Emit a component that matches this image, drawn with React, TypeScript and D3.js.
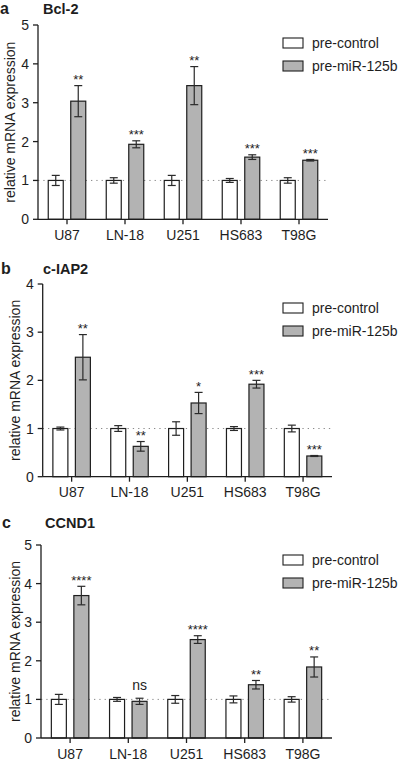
import React from "react";
import * as d3 from "d3";

const cellLines = ["U87", "LN-18", "U251", "HS683", "T98G"];
const seriesNames = ["pre-control", "pre-miR-125b"];

const bcl2Control = [1.0, 1.0, 1.0, 1.0, 1.0];
const bcl2ControlErr = [0.13, 0.07, 0.13, 0.05, 0.07];
const bcl2Mir = [3.04, 1.93, 3.44, 1.6, 1.52];
const bcl2MirErr = [0.4, 0.09, 0.49, 0.06, 0.02];
const bcl2Sig = ["**", "***", "**", "***", "***"];
const bcl2Ticks = [0, 1, 2, 3, 4, 5];

const ciap2Control = [1.0, 1.0, 1.0, 1.0, 1.0];
const ciap2ControlErr = [0.03, 0.06, 0.14, 0.04, 0.07];
const ciap2Mir = [2.48, 0.63, 1.53, 1.92, 0.43];
const ciap2MirErr = [0.47, 0.1, 0.22, 0.08, 0.01];
const ciap2Sig = ["**", "**", "*", "***", "***"];
const ciap2Ticks = [0, 1, 2, 3, 4];

const ccnd1Control = [1.0, 1.0, 1.0, 1.0, 1.0];
const ccnd1ControlErr = [0.13, 0.05, 0.1, 0.09, 0.07];
const ccnd1Mir = [3.69, 0.95, 2.55, 1.38, 1.84];
const ccnd1MirErr = [0.24, 0.08, 0.1, 0.11, 0.26];
const ccnd1Sig = ["****", "ns", "****", "**", "**"];
const ccnd1Ticks = [0, 1, 2, 3, 4, 5];

const FONT = "'Liberation Sans', Arial, Helvetica, sans-serif";
const GRAY = "#b3b3b3";
const INK = "#1e1e1e";

type PanelProps = {
  letter: string;
  title: string;
  control: number[];
  controlErr: number[];
  mir: number[];
  mirErr: number[];
  sig: string[];
  ticks: number[];
  layout: {
    titleY: number;
    letterX: number;
    titleX: number;
    left: number;
    right: number;
    yTop: number;
    yBottom: number;
    legendTop: number;
    yLabelX: number;
    xLabelOffset: number;
  };
};

function Panel(p: PanelProps) {
  const L = p.layout;
  const yMax = p.ticks[p.ticks.length - 1];
  const y = d3.scaleLinear().domain([0, yMax]).range([L.yBottom, L.yTop]);
  const x = d3.scaleBand().domain(cellLines).range([L.left, L.right]);
  const sub = d3
    .scaleBand()
    .domain(seriesNames)
    .range([-18.75, 18.75])
    .paddingInner(1 / 3);
  const bw = sub.bandwidth();
  const series = [
    { name: seriesNames[0], vals: p.control, errs: p.controlErr, fill: "#ffffff" },
    { name: seriesNames[1], vals: p.mir, errs: p.mirErr, fill: GRAY },
  ];
  const yMid = (L.yTop + L.yBottom) / 2;
  return (
    <g fontFamily={FONT} fill={INK}>
      <text x={L.letterX} y={L.titleY} fontWeight="bold" fontSize={16}>
        {p.letter}
      </text>
      <text x={L.titleX} y={L.titleY} fontWeight="bold" fontSize={14.5}>
        {p.title}
      </text>
      <text
        transform={`translate(${L.yLabelX},${yMid}) rotate(-90)`}
        textAnchor="middle"
        dominantBaseline="central"
        fontSize={14}
      >
        relative mRNA expression
      </text>
      {/* reference line at 1 */}
      <line
        x1={L.left}
        x2={L.right}
        y1={y(1)}
        y2={y(1)}
        stroke="#8a8a8a"
        strokeWidth={1}
        strokeDasharray="1.3 4"
      />
      {/* bars */}
      {cellLines.map((c, i) =>
        series.map((s) => {
          const cx = (x(c) as number) + x.bandwidth() / 2;
          const bx = cx + (sub(s.name) as number);
          const v = s.vals[i];
          const e = s.errs[i];
          const mx = bx + bw / 2;
          return (
            <g key={c + s.name}>
              <rect
                x={bx}
                y={y(v)}
                width={bw}
                height={y(0) - y(v)}
                fill={s.fill}
                stroke={INK}
                strokeWidth={1.2}
              />
              <g stroke="#2a2a2a" strokeWidth={1.2}>
                <line x1={mx} x2={mx} y1={y(v + e)} y2={y(v - e)} />
                <line x1={mx - 4} x2={mx + 4} y1={y(v + e)} y2={y(v + e)} />
                <line x1={mx - 4} x2={mx + 4} y1={y(v - e)} y2={y(v - e)} />
              </g>
            </g>
          );
        })
      )}
      {/* significance */}
      {cellLines.map((c, i) => {
        const cx = (x(c) as number) + x.bandwidth() / 2;
        const mx = cx + (sub(seriesNames[1]) as number) + bw / 2;
        const top = y(p.mir[i] + p.mirErr[i]);
        const s = p.sig[i];
        const isNs = s === "ns";
        return (
          <text
            key={"s" + c}
            x={mx}
            y={isNs ? top - 8 : top - 1.5}
            textAnchor="middle"
            fontSize={isNs ? 14 : 13}
          >
            {s}
          </text>
        );
      })}
      {/* axes */}
      <g stroke={INK} strokeWidth={1.3}>
        <line x1={L.left} x2={L.left} y1={L.yTop} y2={L.yBottom} />
        <line x1={L.left} x2={L.right} y1={L.yBottom} y2={L.yBottom} />
        {p.ticks.map((t) => (
          <line key={"yt" + t} x1={L.left - 5} x2={L.left} y1={y(t)} y2={y(t)} />
        ))}
        {cellLines.map((c) => {
          const cx = (x(c) as number) + x.bandwidth() / 2;
          return <line key={"xt" + c} x1={cx} x2={cx} y1={L.yBottom} y2={L.yBottom + 5} />;
        })}
      </g>
      {p.ticks.map((t) => (
        <text
          key={"yl" + t}
          x={L.left - 9}
          y={y(t)}
          dy="0.36em"
          textAnchor="end"
          fontSize={14}
        >
          {t}
        </text>
      ))}
      {cellLines.map((c) => {
        const cx = (x(c) as number) + x.bandwidth() / 2;
        return (
          <text key={"xl" + c} x={cx} y={L.yBottom + L.xLabelOffset} textAnchor="middle" fontSize={14}>
            {c}
          </text>
        );
      })}
      {/* legend */}
      {series.map((s, k) => {
        const ty = L.legendTop + k * 23;
        return (
          <g key={"lg" + s.name}>
            <rect x={283} y={ty} width={20} height={10} fill={s.fill} stroke={INK} strokeWidth={1.1} />
            <text x={312} y={ty + 5} dy="0.36em" fontSize={14}>
              {s.name}
            </text>
          </g>
        );
      })}
    </g>
  );
}

export default function App() {
  return (
    <svg
      width={403}
      height={761}
      viewBox="0 0 403 761"
      style={{ position: "absolute", left: 0, top: 0, display: "block", background: "#fff" }}
    >
      <rect width={403} height={761} fill="#fff" />
      <Panel
        letter="a"
        title="Bcl-2"
        control={bcl2Control}
        controlErr={bcl2ControlErr}
        mir={bcl2Mir}
        mirErr={bcl2MirErr}
        sig={bcl2Sig}
        ticks={bcl2Ticks}
        layout={{
          titleY: 14,
          letterX: 0,
          titleX: 43,
          left: 38,
          right: 328,
          yTop: 25,
          yBottom: 219.3,
          legendTop: 38,
          yLabelX: 10,
          xLabelOffset: 21,
        }}
      />
      <Panel
        letter="b"
        title="c-IAP2"
        control={ciap2Control}
        controlErr={ciap2ControlErr}
        mir={ciap2Mir}
        mirErr={ciap2MirErr}
        sig={ciap2Sig}
        ticks={ciap2Ticks}
        layout={{
          titleY: 274,
          letterX: 1,
          titleX: 43,
          left: 42.7,
          right: 332,
          yTop: 284,
          yBottom: 476.7,
          legendTop: 303,
          yLabelX: 15,
          xLabelOffset: 20.5,
        }}
      />
      <Panel
        letter="c"
        title="CCND1"
        control={ccnd1Control}
        controlErr={ccnd1ControlErr}
        mir={ccnd1Mir}
        mirErr={ccnd1MirErr}
        sig={ccnd1Sig}
        ticks={ccnd1Ticks}
        layout={{
          titleY: 528,
          letterX: 2,
          titleX: 45,
          left: 41,
          right: 332,
          yTop: 545,
          yBottom: 738,
          legendTop: 555,
          yLabelX: 15,
          xLabelOffset: 21,
        }}
      />
    </svg>
  );
}
